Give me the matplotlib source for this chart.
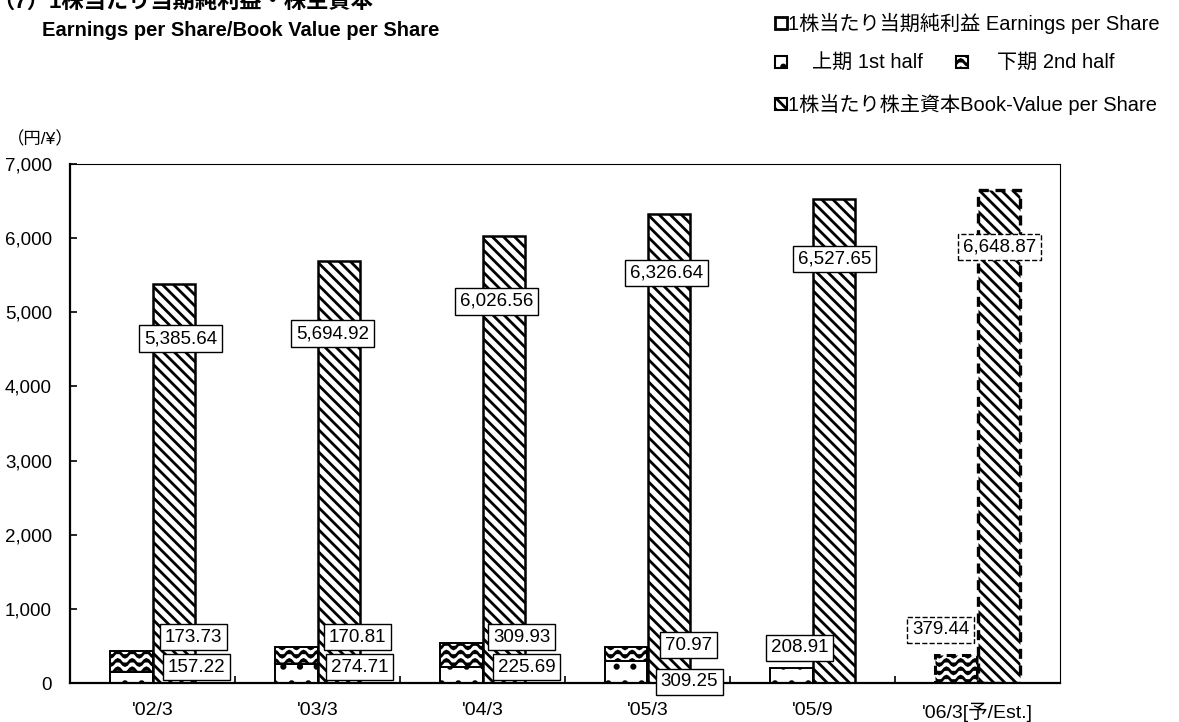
import warnings
warnings.filterwarnings('ignore')
import numpy as np
import matplotlib
matplotlib.use('Agg')
import matplotlib.pyplot as plt
from matplotlib import hatch as mhatch
from matplotlib.path import Path
from matplotlib.patches import Rectangle
from matplotlib.ticker import FuncFormatter

plt.rcParams['font.family'] = ['Liberation Sans', 'Noto Sans CJK JP', 'DejaVu Sans']
plt.rcParams['hatch.color'] = 'black'
plt.rcParams['hatch.linewidth'] = 2.0

# ---------------- data ----------------
categories = ["'02/3", "'03/3", "'04/3", "'05/3", "'05/9", "'06/3[予/Est.]"]
# EPS bar heights as drawn in the picture (yen)
eps_first_half = [150, 250, 215, 300, 205, 0]
eps_second_half = [275, 230, 320, 180, 0, 380]
# Book value per share
bvps = [5385.64, 5694.92, 6026.56, 6326.64, 6527.65, 6648.87]
# printed data labels
eps_first_labels = ["157.22", "274.71", "225.69", "309.25", "208.91", ""]
eps_second_labels = ["173.73", "170.81", "309.93", "70.97", "", "379.44"]
bvps_labels = ["5,385.64", "5,694.92", "6,026.56", "6,326.64", "6,527.65", "6,648.87"]
is_estimate = [False, False, False, False, False, True]

# ---------------- layout (label offsets in pixels) ----------------
eps2_off = [(41, 46), (40, 46), (39, 46), (41, 38), (0, 0), (-37, 53)]
eps1_off = [(44, 16), (42, 16), (44, 16), (42, 1), (-13, 35), (0, 0)]
bv_off = [(7, -55), (-6, -73), (-7, -65), (-2, -59), (1, -60), (1, -57)]


# ---------------- custom wave hatch ----------------
class WaveHatch(mhatch.HatchPatternBase):
    def __init__(self, hatch, density):
        self.num_rows = hatch.count('~') * density
        self.npts = 57
        self.num_vertices = self.num_rows * self.npts

    def set_vertices_and_codes(self, vertices, codes):
        t = np.linspace(0, 1, self.npts)
        for i in range(self.num_rows):
            y0 = (i + 0.5) / self.num_rows
            s = i * self.npts
            vertices[s:s + self.npts, 0] = t
            vertices[s:s + self.npts, 1] = y0 + 0.03 * np.sin(2 * np.pi * 7 * t)
            codes[s:s + self.npts] = Path.LINETO
            codes[s] = Path.MOVETO


mhatch._hatch_types.append(WaveHatch)

fig = plt.figure(figsize=(11.79, 7.22), dpi=100)
W, H = 1179, 722
ax = fig.add_axes([70 / W, 1 - 683 / H, (1060 - 70) / W, (683 - 164) / H])

x = np.arange(len(categories))
bw = 0.255
off = 0.1275

for i in range(len(categories)):
    ls = (0, (3, 2)) if is_estimate[i] else 'solid'
    elw = 2.2 if is_estimate[i] else 1.4
    if eps_first_half[i] > 0:
        ax.bar(x[i] - off, eps_first_half[i], bw, color='white', edgecolor='black',
               hatch='.', linewidth=elw, linestyle=ls, zorder=2)
    if eps_second_half[i] > 0:
        ax.bar(x[i] - off, eps_second_half[i], bw, bottom=eps_first_half[i],
               color='white', edgecolor='black', hatch='~~', linewidth=elw,
               linestyle=ls, zorder=2)
    ax.bar(x[i] + off, bvps[i], bw, color='white', edgecolor='black',
           hatch='\\\\\\', linewidth=1.8 if not is_estimate[i] else 2.4,
           linestyle=ls, zorder=2)

# labels
for i in range(len(categories)):
    bls = '--' if is_estimate[i] else '-'
    box = dict(boxstyle='square,pad=0.26', fc='white', ec='black', lw=1.0, ls=bls)
    ax.annotate(bvps_labels[i], xy=(x[i] + off, bvps[i]), xytext=bv_off[i],
                textcoords='offset pixels', ha='center', va='center',
                fontsize=13.5, bbox=box, zorder=5)
    if eps_second_labels[i]:
        ax.annotate(eps_second_labels[i], xy=(x[i], 0), xytext=eps2_off[i],
                    textcoords='offset pixels', ha='center', va='center',
                    fontsize=13.5, bbox=box, zorder=5, annotation_clip=False)
    if eps_first_labels[i]:
        ax.annotate(eps_first_labels[i], xy=(x[i], 0), xytext=eps1_off[i],
                    textcoords='offset pixels', ha='center', va='center',
                    fontsize=13.5, bbox=box, zorder=6, annotation_clip=False)

ax.set_xlim(-0.5, len(categories) - 0.5)
ax.set_ylim(0, 7000)
ax.set_yticks(np.arange(0, 7001, 1000))
ax.yaxis.set_major_formatter(FuncFormatter(lambda v, p: f'{int(v):,}'))
ax.set_xticks(np.arange(0.5, len(categories) - 0.5, 1.0))
ax.set_xticklabels([])
ax.set_xticks(x, minor=True)
ax.set_xticklabels(categories, minor=True)
ax.tick_params(axis='x', which='major', direction='in', length=5, width=1.2)
ax.tick_params(axis='x', which='minor', length=0, pad=14, labelsize=14)
ax.tick_params(axis='y', direction='in', length=5, width=1.2, pad=13, labelsize=13.5)
for s in ['left', 'bottom']:
    ax.spines[s].set_linewidth(1.6)
for s in ['top', 'right']:
    ax.spines[s].set_linewidth(0.8)

# unit label
fig.text(7 / W, 1 - 139 / H, '（円/¥）', ha='left', va='center', fontsize=12.5)

# title
fig.text(-8 / W, 1 - 2 / H, '（7）1株当たり当期純利益・株主資本', ha='left', va='center',
         fontsize=16, fontweight='bold')
fig.text(42 / W, 1 - 31 / H, 'Earnings per Share/Book Value per Share', ha='left',
         va='center', fontsize=14.5, fontweight='bold')

# legend
def icon(x0, yc, **kw):
    r = Rectangle((x0 / W, 1 - (yc + 6) / H), 12 / W, 12 / H, transform=fig.transFigure,
                  **kw)
    fig.add_artist(r)
    return r

LFS = 14.5
icon(775, 23, facecolor='white', edgecolor='black', linewidth=2.0)
fig.text(788 / W, 1 - 23 / H, '1株当たり当期純利益 Earnings per Share', ha='left',
         va='center', fontsize=LFS)
icon(775, 62, facecolor='white', edgecolor='black', linewidth=1.5, hatch='.')
fig.text(812 / W, 1 - 62 / H, '上期 1st half', ha='left', va='center', fontsize=LFS)
icon(956, 62, facecolor='white', edgecolor='black', linewidth=1.5, hatch='~~')
fig.text(997 / W, 1 - 62 / H, '下期 2nd half', ha='left', va='center', fontsize=LFS)
icon(775, 104, facecolor='white', edgecolor='black', linewidth=1.5, hatch='\\\\\\')
fig.text(788 / W, 1 - 104 / H, '1株当たり株主資本Book-Value per Share', ha='left',
         va='center', fontsize=LFS)

fig.savefig('out.png', dpi=100)
